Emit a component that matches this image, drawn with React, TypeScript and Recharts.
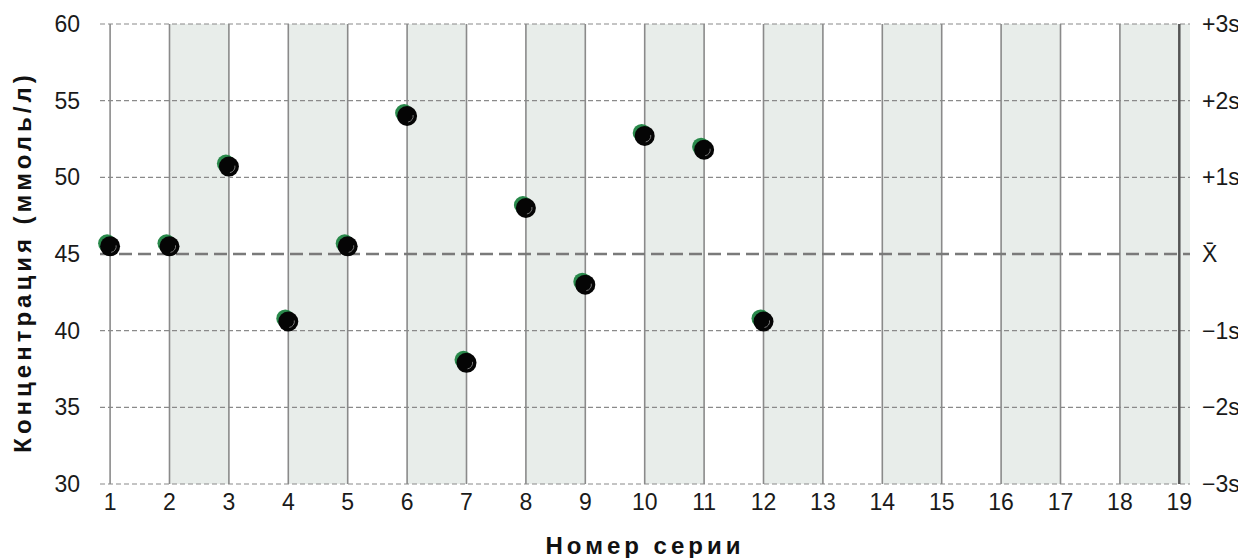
import {
  ComposedChart,
  Scatter,
  XAxis,
  YAxis,
  ReferenceArea,
  ReferenceLine,
} from 'recharts'

// series number -> concentration (mmol/l)
const seriesNo = [1, 2, 3, 4, 5, 6, 7, 8, 9, 10, 11, 12]
const values = [45.5, 45.5, 50.7, 40.6, 45.5, 54.0, 37.9, 48.0, 43.0, 52.7, 51.8, 40.6]

const xTicks = [1, 2, 3, 4, 5, 6, 7, 8, 9, 10, 11, 12, 13, 14, 15, 16, 17, 18, 19]
const yTicks = [30, 35, 40, 45, 50, 55, 60]
const sigmaLabels = ['−3s', '−2s', '−1s', 'X̄', '+1s', '+2s', '+3s']
const bandStarts = [2, 4, 6, 8, 10, 12, 14, 16, 18]
const MEAN = 45

const data = seriesNo.map((n, i) => ({ n, v: values[i] }))

const FONT = '"Liberation Sans", Arial, Helvetica, sans-serif'
const tickStyle = { fontSize: 23, fill: '#1a1a1a', fontFamily: FONT }
const titleStyle = {
  fontSize: 24,
  fontWeight: 700,
  fill: '#111',
  fontFamily: FONT,
  letterSpacing: 4,
}

const Dot = (props: any) => {
  const { cx, cy } = props
  if (cx == null || cy == null) return null
  return (
    <g>
      <circle cx={cx - 3} cy={cy - 3} r={9} fill="#2a8a4c" />
      <circle cx={cx} cy={cy} r={10} fill="#050505" />
      <path
        d={`M ${cx + 6} ${cy - 1} A 6 6 0 0 1 ${cx + 1} ${cy + 6}`}
        stroke="#777"
        strokeWidth={1}
        fill="none"
      />
    </g>
  )
}

export default function App() {
  return (
    <div style={{ fontFamily: FONT }}>
      <ComposedChart
        width={1238}
        height={550}
        data={data}
        margin={{ top: 16, right: 56, bottom: 0, left: 0 }}
      >
        <XAxis
          dataKey="n"
          type="number"
          domain={[0.83, 19.18]}
          ticks={xTicks}
          interval={0}
          axisLine={false}
          tickLine={false}
          tickSize={0}
          tickMargin={10}
          height={74}
          tick={tickStyle}
          label={{
            value: 'Номер серии',
            position: 'insideBottom',
            offset: 4,
            style: titleStyle,
          }}
        />
        <YAxis
          domain={[30, 60]}
          ticks={yTicks}
          axisLine={false}
          tickLine={false}
          tickSize={0}
          tickMargin={20}
          width={92}
          tick={tickStyle}
          label={{
            value: 'Концентрация (ммоль/л)',
            angle: -90,
            position: 'insideLeft',
            offset: 14,
            dy: 8,
            style: { ...titleStyle, textAnchor: 'middle' },
          }}
        />

        {bandStarts.map((s, i) => (
          <ReferenceArea
            key={`band-${s}`}
            x1={s}
            x2={i === bandStarts.length - 1 ? undefined : s + 1}
            fill="#e8edea"
            fillOpacity={1}
            stroke="none"
          />
        ))}

        {yTicks
          .filter(v => v !== MEAN)
          .map(v => (
            <ReferenceLine
              key={`h-${v}`}
              y={v}
              stroke="#8a8a8a"
              strokeWidth={1.2}
              strokeDasharray="5 3"
            />
          ))}

        {xTicks.map(x => (
          <ReferenceLine
            key={`v-${x}`}
            x={x}
            stroke={x === 19 ? '#555' : '#8a8a8a'}
            strokeWidth={x === 19 ? 2.5 : 1.6}
          />
        ))}

        <ReferenceLine
          y={MEAN}
          stroke="#7a7a7a"
          strokeWidth={2.6}
          strokeDasharray="13 6"
        />

        {/* sigma labels on the right edge */}
        {yTicks.map((v, i) => (
          <ReferenceLine
            key={`s-${v}`}
            y={v}
            stroke="none"
            label={{
              value: sigmaLabels[i],
              position: 'right',
              offset: 12,
              style: { fontSize: 23, fill: '#1a1a1a', fontFamily: FONT },
            }}
          />
        ))}

        <Scatter dataKey="v" shape={Dot} isAnimationActive={false} />
      </ComposedChart>
    </div>
  )
}
